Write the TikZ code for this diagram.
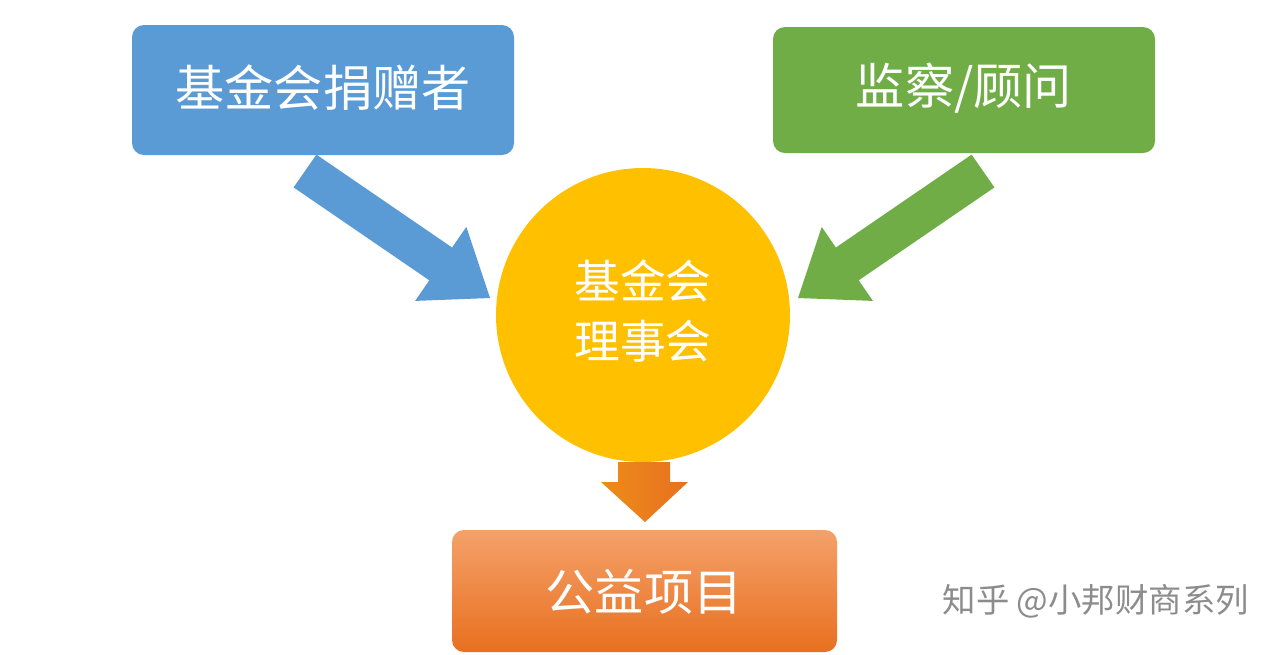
\documentclass[tikz,border=0pt]{standalone}
\usepackage{fontspec}
\setmainfont{Noto Sans CJK SC}
\usetikzlibrary{shadings}
\definecolor{cblue}{HTML}{5B9BD5}
\definecolor{cgreen}{HTML}{70AD47}
\definecolor{cgold}{HTML}{FFC000}
\definecolor{corA}{HTML}{F4A16A}
\definecolor{corB}{HTML}{E8701F}
\begin{document}
\begin{tikzpicture}[x=0.02cm,y=-0.02cm,
  box/.style={rounded corners=0.24cm,text=white,font=\fontsize{28}{32}\selectfont,inner sep=0pt}]
\useasboundingbox (0,0) rectangle (1288,654);
\fill[white] (0,0) rectangle (1288,654);
% boxes
\fill[cblue,rounded corners=0.24cm] (132,25) rectangle (514,155);
\node[box] (donor) at (323,88) {基金会捐赠者};
\fill[cgreen,rounded corners=0.24cm] (773,27) rectangle (1155,153);
\node[box] (sup) at (964,88) {监察/顾问};
\shade[top color=corA,bottom color=corB,rounded corners=0.24cm] (452,530) rectangle (837,652);
\node[box] (proj) at (644,592) {公益项目};
% circle
\fill[cgold] (643,315) circle[radius=2.94cm];
\node[text=white,font=\fontsize{26}{34}\selectfont,align=center] (board) at (643,311) {基金会\\理事会};
% blue arrow
\fill[cblue] (316.4,154.6) -- (452.1,247.5) -- (466.3,226.9) -- (490,298) -- (415.1,300.9) -- (429.3,280.3) -- (293.6,187.4) -- cycle;
% green arrow
\fill[cgreen] (971.6,154.6) -- (835.9,247.5) -- (821.7,226.9) -- (798,298) -- (872.9,300.9) -- (858.7,280.3) -- (994.4,187.4) -- cycle;
% orange arrow
\shade[left color=corB!80!yellow,right color=corB] (618,462) -- (670,462) -- (670,482) -- (688,482) -- (645,522) -- (601,482) -- (618,482) -- cycle;
% watermark
\node[text=black!45,font=\fontsize{19}{22}\selectfont,anchor=east] (wm) at (1255,601) {知乎 @小邦财商系列};
\end{tikzpicture}
\end{document}
